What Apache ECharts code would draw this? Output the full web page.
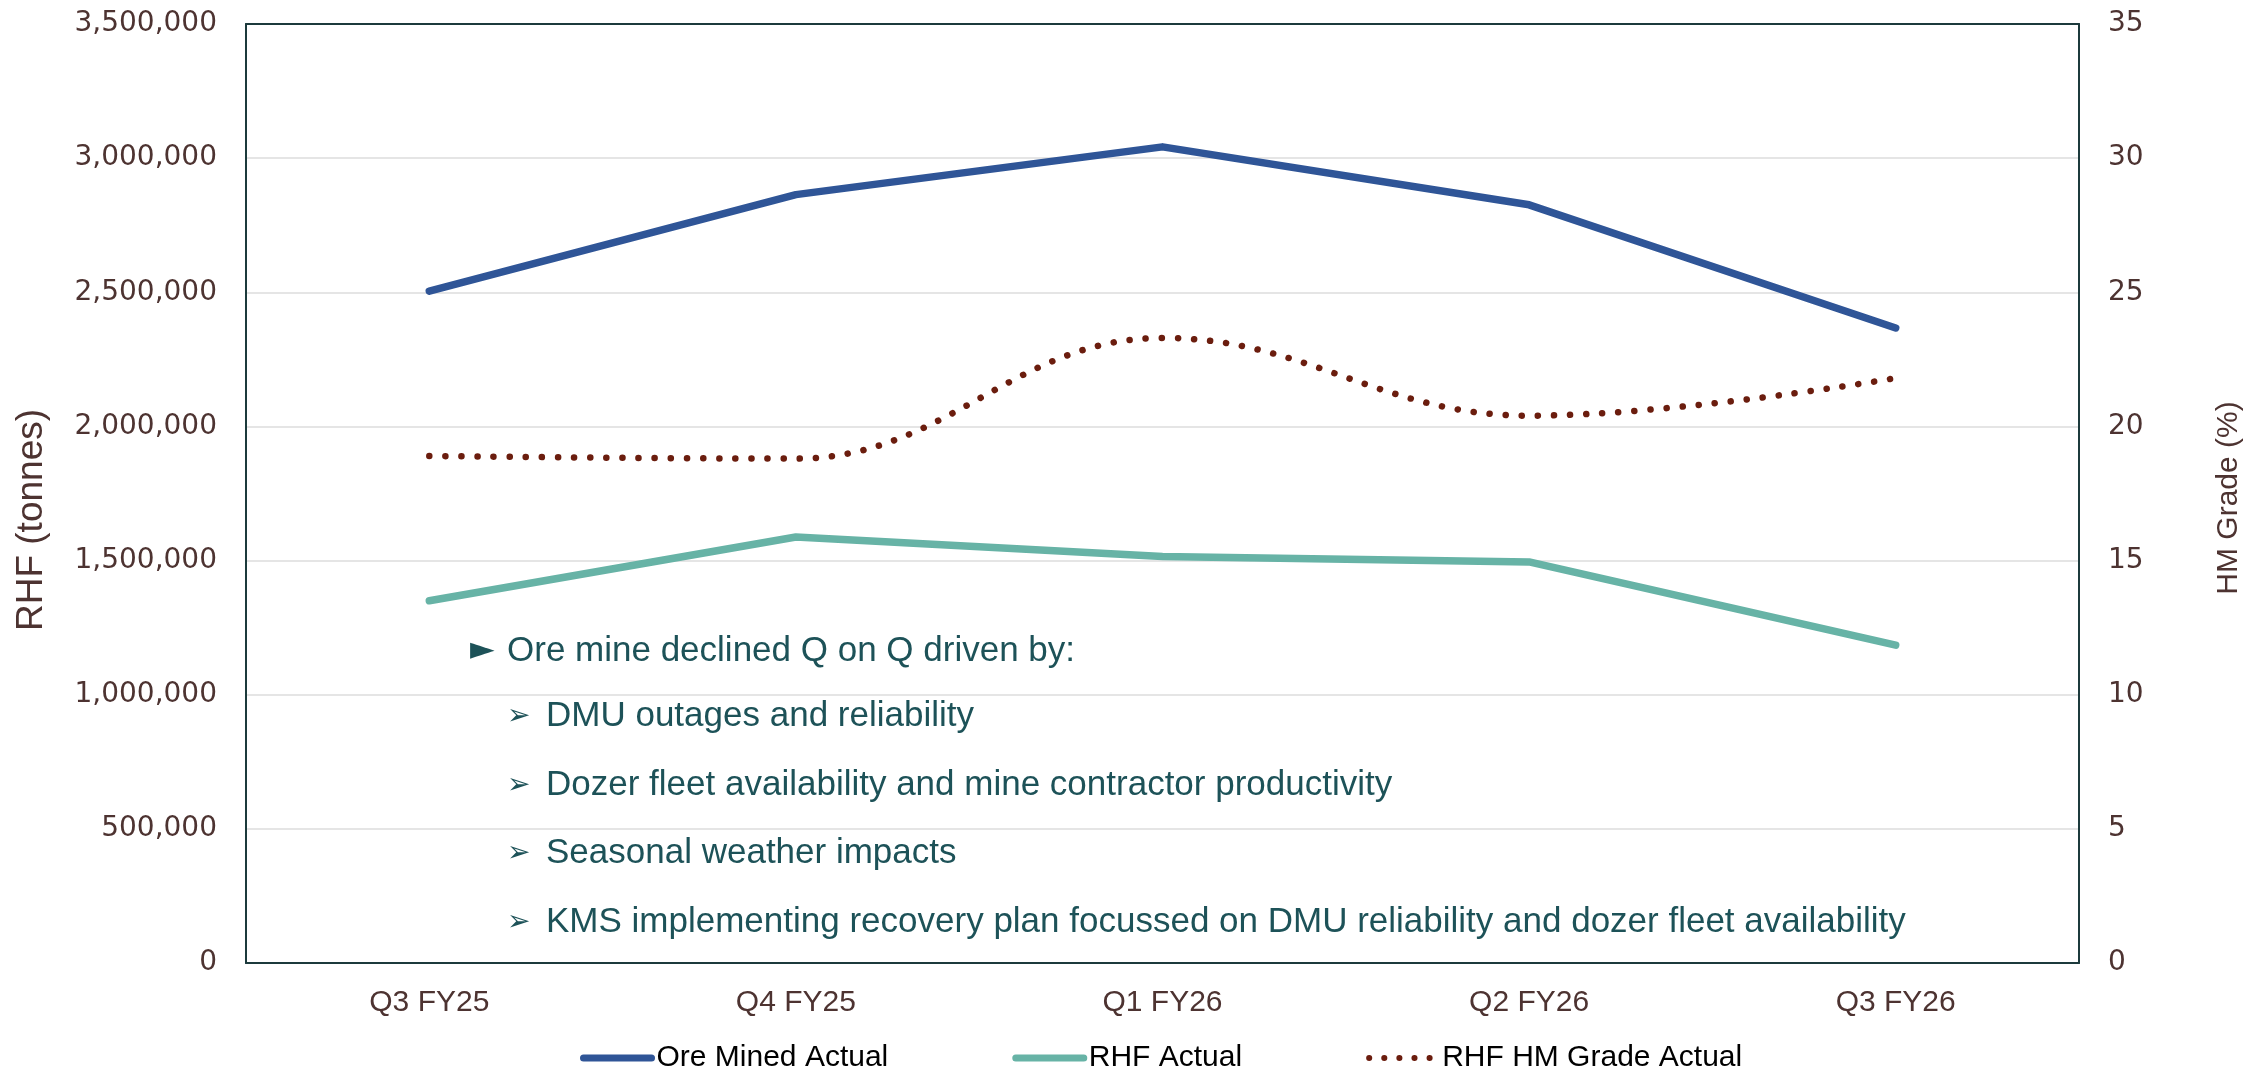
<!DOCTYPE html>
<html>
<head>
<meta charset="utf-8">
<title>Ore Mined / RHF</title>
<script src="https://cdn.jsdelivr.net/npm/echarts@6/dist/echarts.min.js"></script>
<style>
    html, body {
        margin: 0;
        padding: 0;
        background: #fff;
    }

    #chart {
        width: 2267px;
        height: 1071px;
    }
</style>
</head>
<body>
<div id="chart"></div>
<script>
// 类别
const quarters = ['Q3 FY25', 'Q4 FY25', 'Q1 FY26', 'Q2 FY26', 'Q3 FY26']

// 系列数据
const oreMinedActual = [2504000, 2864000, 3042000, 2826000, 2367000]
const rhfActual = [1350000, 1588000, 1515000, 1495000, 1185000]
const rhfGradeActual = [18.9, 18.8, 23.3, 20.4, 21.8]

// 注释文字
const noteHead = 'Ore mine declined Q on Q driven by:'
const noteItems = [
    'DMU outages and reliability',
    'Dozer fleet availability and mine contractor productivity',
    'Seasonal weather impacts',
    'KMS implementing recovery plan focussed on DMU reliability and dozer fleet availability',
]

const tickColor = '#4d3331'
const noteColor = '#1d5258'
const frameColor = '#1c3a3c'

const blue = '#2f5597'
const teal = '#67b3a6'
const brown = '#6b1d0e'

const chart = echarts.init(document.getElementById('chart'))

// 注释
const noteFont = '35px "Liberation Sans", Arial, sans-serif'
const graphics = [
    {
        type: 'text',
        left: 470,
        top: 654 - 19,
        style: { text: '\u25BA', font: '32px "DejaVu Sans", sans-serif', fill: noteColor },
    },
    {
        type: 'text',
        left: 507,
        top: 654 - 20,
        style: { text: noteHead, font: noteFont, fill: noteColor },
    },
]
noteItems.forEach((t, i) => {
    const cy = 719 + i * 68.5
    graphics.push({
        type: 'text',
        left: 507,
        top: cy - 16,
        style: { text: '\u27A2', font: '28px "DejaVu Sans", sans-serif', fill: noteColor },
    })
    graphics.push({
        type: 'text',
        left: 546,
        top: cy - 20,
        style: { text: t, font: noteFont, fill: noteColor },
    })
})

// 坐标轴名称
graphics.push({
    type: 'text',
    x: 32,
    y: 520,
    rotation: Math.PI / 2,
    style: {
        text: 'RHF (tonnes)',
        font: '37px "Liberation Sans", Arial, sans-serif',
        fill: tickColor,
        align: 'center',
        verticalAlign: 'middle',
    },
})
graphics.push({
    type: 'text',
    x: 2229,
    y: 498,
    rotation: Math.PI / 2,
    style: {
        text: 'HM Grade (%)',
        font: '30px "Liberation Sans", Arial, sans-serif',
        fill: tickColor,
        align: 'center',
        verticalAlign: 'middle',
    },
})

const legendItem = (name, color, lineStyle) => ({
    name: name,
    itemStyle: { opacity: 0 },
    lineStyle: Object.assign({ color: color }, lineStyle),
})

chart.setOption({
    animation: false,
    grid: {
        left: 246,
        right: 188,
        top: 24,
        bottom: 108,
    },
    legend: {
        left: 580,
        top: 1043,
        padding: 0,
        itemWidth: 68,
        itemHeight: 30,
        itemGap: 124,
        textStyle: {
            fontFamily: '"Liberation Sans", Arial, sans-serif',
            fontSize: 30,
            color: '#000',
        },
        data: [
            legendItem('Ore Mined Actual', blue, { width: 7, type: 'solid', cap: 'round' }),
            legendItem('RHF Actual', teal, { width: 7, type: 'solid', cap: 'round' }),
            legendItem('RHF HM Grade Actual', brown, { width: 6, type: [0.1, 15], cap: 'round' }),
        ],
    },
    xAxis: [
        {
            type: 'category',
            data: quarters,
            boundaryGap: true,
            axisLine: { onZero: false, lineStyle: { color: frameColor, width: 2 } },
            axisTick: { show: false },
            axisLabel: {
                margin: 25,
                color: tickColor,
                fontFamily: '"Liberation Sans", Arial, sans-serif',
                fontSize: 30,
            },
        },
        {
            // 顶部边框
            type: 'category',
            data: quarters,
            position: 'top',
            axisLine: { onZero: false, lineStyle: { color: frameColor, width: 2 } },
            axisTick: { show: false },
            axisLabel: { show: false },
        },
    ],
    yAxis: [
        {
            type: 'value',
            min: 0,
            max: 3500000,
            interval: 500000,
            axisLine: { show: true, lineStyle: { color: frameColor, width: 2 } },
            axisTick: { show: false },
            splitLine: {
                showMinLine: false,
                showMaxLine: false,
                lineStyle: { color: '#dcdcdc', width: 1.5 },
            },
            axisLabel: {
                margin: 29,
                color: tickColor,
                fontFamily: '"DejaVu Sans", sans-serif',
                fontSize: 28,
                formatter: (v) => v.toLocaleString('en-US'),
            },
        },
        {
            type: 'value',
            min: 0,
            max: 35,
            interval: 5,
            axisLine: { show: true, lineStyle: { color: frameColor, width: 2 } },
            axisTick: { show: false },
            splitLine: { show: false },
            axisLabel: {
                margin: 29,
                color: tickColor,
                fontFamily: '"DejaVu Sans", sans-serif',
                fontSize: 28,
            },
        },
    ],
    series: [
        {
            name: 'Ore Mined Actual',
            type: 'line',
            data: oreMinedActual,
            yAxisIndex: 0,
            symbol: 'none',
            lineStyle: { color: blue, width: 7.5, cap: 'round', join: 'round' },
            itemStyle: { color: blue },
            z: 3,
        },
        {
            name: 'RHF Actual',
            type: 'line',
            data: rhfActual,
            yAxisIndex: 0,
            symbol: 'none',
            lineStyle: { color: teal, width: 7.5, cap: 'round', join: 'round' },
            itemStyle: { color: teal },
            z: 2,
        },
        {
            name: 'RHF HM Grade Actual',
            type: 'line',
            data: rhfGradeActual,
            yAxisIndex: 1,
            symbol: 'none',
            smooth: 0.4,
            lineStyle: {
                color: brown,
                width: 6.5,
                type: [0.1, 16],
                cap: 'round',
            },
            itemStyle: { color: brown },
            z: 4,
        },
    ],
    graphic: graphics,
})
</script>
</body>
</html>
